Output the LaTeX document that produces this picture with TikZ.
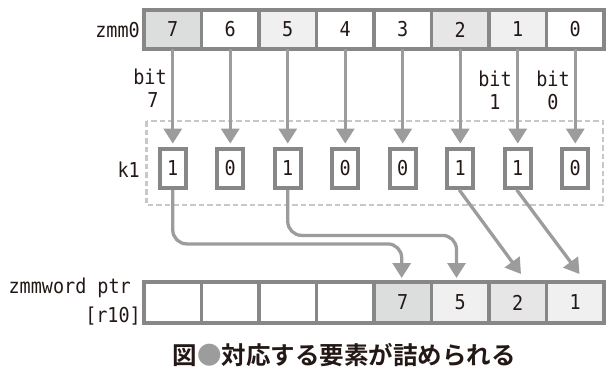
\documentclass[tikz,border=0pt]{standalone}
\usepackage{fontspec}
\setmonofont[FakeStretch=0.9]{DejaVu Sans Mono}
\newfontfamily\cjkbold{Noto Sans CJK JP Bold}
\usetikzlibrary{arrows.meta,calc}
\definecolor{bordergray}{HTML}{878787}
\definecolor{arrowgray}{HTML}{9C9C9C}
\definecolor{dashgray}{HTML}{C8C8C8}
\definecolor{fillA}{HTML}{DCDDDD}
\definecolor{fillB}{HTML}{F0F0F0}
\definecolor{fillC}{HTML}{E6E6E6}
\definecolor{textdark}{HTML}{231815}
\tikzset{
  cell/.style={draw=bordergray, line width=3.5pt, rectangle, minimum width=57.5pt, minimum height=39pt, inner sep=0pt, font=\fontsize{20.5}{22}\ttfamily, text=textdark},
  bcell/.style={cell, minimum height=41pt},
  kbox/.style={draw=bordergray, line width=3.8pt, rectangle, minimum width=26pt, minimum height=39pt, inner sep=0pt, fill=white, font=\fontsize{20.5}{22}\ttfamily, text=textdark},
  lbl/.style={font=\fontsize{20.5}{22}\ttfamily, text=textdark, inner sep=0pt},
  arr/.style={draw=arrowgray, line width=3.3pt, -{Triangle[width=18pt,length=15pt]}},
  conn/.style={arr, rounded corners=14pt},
}
\begin{document}
\begin{tikzpicture}[x=1pt,y=-1pt]
\useasboundingbox (0,0) rectangle (616,381);
% dashed frame
\draw[dashgray, line width=2.2pt, dash pattern=on 5.5pt off 3pt] (146.5,121) rectangle (603,205);
% top register
\node[cell, fill=fillA] (t7) at (172.75,29.5) {7};
\node[cell, fill=white] (t6) at (230.25,29.5) {6};
\node[cell, fill=fillB] (t5) at (287.75,29.5) {5};
\node[cell, fill=white] (t4) at (345.25,29.5) {4};
\node[cell, fill=white] (t3) at (402.75,29.5) {3};
\node[cell, fill=fillC] (t2) at (460.25,29.5) {2};
\node[cell, fill=fillB] (t1) at (517.75,29.5) {1};
\node[cell, fill=white] (t0) at (575.25,29.5) {0};
% k1 boxes
\node[kbox] (k7) at (172.75,168.5) {1};
\node[kbox] (k6) at (230.25,168.5) {0};
\node[kbox] (k5) at (287.75,168.5) {1};
\node[kbox] (k4) at (345.25,168.5) {0};
\node[kbox] (k3) at (402.75,168.5) {0};
\node[kbox] (k2) at (460.25,168.5) {1};
\node[kbox] (k1) at (517.75,168.5) {1};
\node[kbox] (k0) at (575.25,168.5) {0};
% bottom register
\node[bcell, fill=white] (b7) at (172.75,302.5) {};
\node[bcell, fill=white] (b6) at (230.25,302.5) {};
\node[bcell, fill=white] (b5) at (287.75,302.5) {};
\node[bcell, fill=white] (b4) at (345.25,302.5) {};
\node[bcell, fill=fillA] (c7) at (402.75,302.5) {7};
\node[bcell, fill=fillB] (c5) at (460.25,302.5) {5};
\node[bcell, fill=fillC] (c2) at (517.75,302.5) {2};
\node[bcell, fill=fillB] (c1) at (575.25,302.5) {1};
% labels
\node[lbl, anchor=east] (lz) at (140,30) {zmm0};
\node[lbl, anchor=east] (lk) at (140,170) {k1};
\node[lbl, anchor=east] (lm1) at (131,288) {zmmword ptr};
\node[lbl, anchor=east] (lm2) at (141,316) {[r10]};
\node[lbl] (b7a) at (150,77) {bit};
\node[lbl] (b7b) at (153,100) {7};
\node[lbl] (b1a) at (495,79) {bit};
\node[lbl] (b1b) at (495,102) {1};
\node[lbl] (b0a) at (553,79) {bit};
\node[lbl] (b0b) at (553,102) {0};
% arrows top -> k1
\foreach \i in {7,6,5,4,3,2,1,0}{
  \draw[arr, shorten <=-1.5pt, shorten >=3.5pt] (t\i.south) -- (k\i.north);
}
% arrows k1 -> memory
\coordinate (e7) at (401.7,280);
\coordinate (e5) at (456.5,280);
\coordinate (e2) at (521,274);
\coordinate (e1) at (579.5,274);
\draw[conn, shorten >=2pt] (k7.south) -- ++(0,54) -| (e7);
\draw[conn, shorten >=2pt] (k5.south) -- ++(0,45.5) -| (e5);
\draw[arr] ($(k2.south)+(-1,0)$) -- (e2);
\draw[arr] ($(k1.south)+(-1,0)$) -- (e1);
% caption
\node[inner sep=0pt, font=\fontsize{24.5}{26}\cjkbold, text=textdark] (cap) at (344,355) {図\textcolor{arrowgray}{●}対応する要素が詰められる};
\end{tikzpicture}
\end{document}
